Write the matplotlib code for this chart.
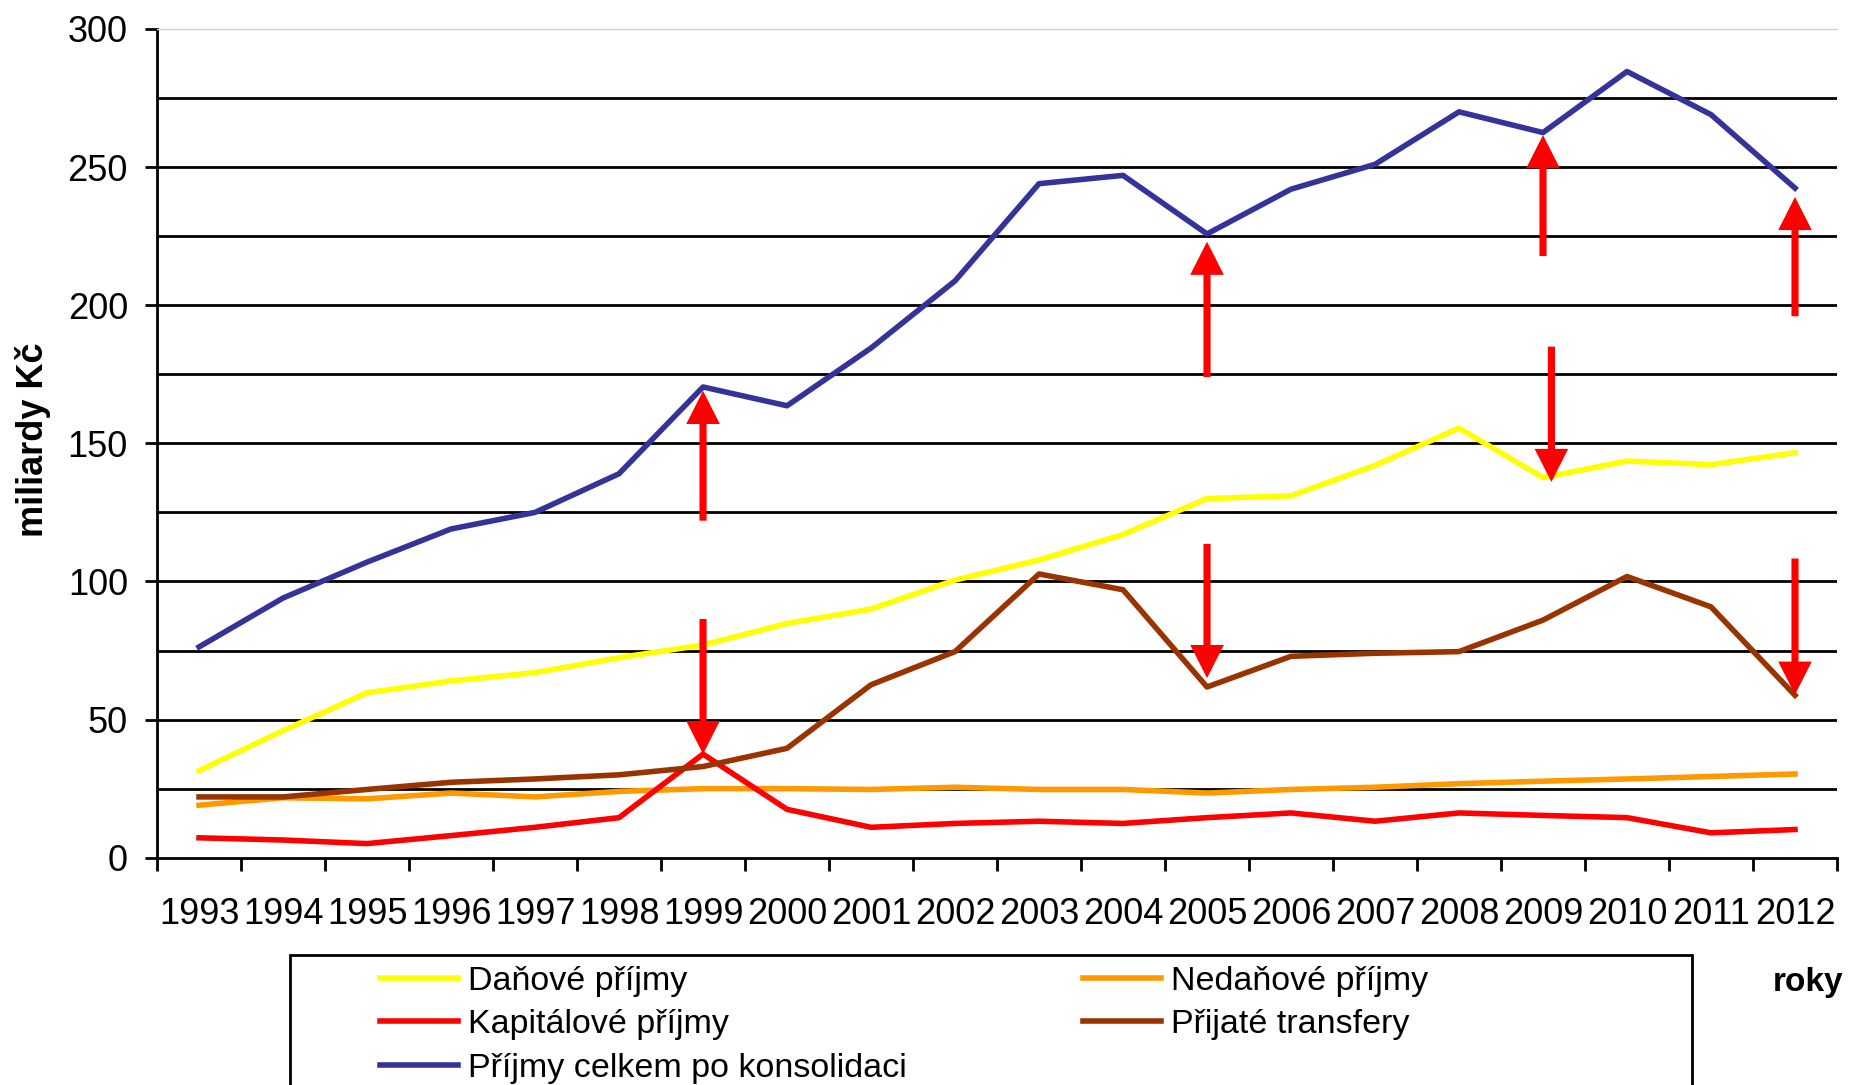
import numpy as np # numerical methods
import matplotlib.pyplot as plt #plotting
from matplotlib.patches import Rectangle

plt.rcParams['font.family'] = ['Liberation Sans', 'DejaVu Sans']

# roky a hodnoty (miliardy Kc)
years = np.arange(1993, 2013)

danove = [31.5, 46, 59.7, 64, 67, 72.4, 77, 84.8, 90, 100.5,
          107.8, 117, 130, 131, 142, 155.5, 137.6, 143.6, 142.3, 146.6]
nedanove = [19, 21.7, 21.3, 23.4, 22, 24, 25, 25, 24.7, 25.5,
            24.7, 24.7, 23.4, 24.7, 25.5, 26.8, 27.7, 28.5, 29.4, 30.3]
kapitalove = [7.2, 6.4, 5.1, 8, 11, 14.5, 37.5, 17.5, 11, 12.4,
              13.2, 12.4, 14.5, 16.2, 13.2, 16.2, 15.3, 14.5, 9, 10.2]
transfery = [22, 22, 24.7, 27.3, 28.5, 30, 33, 39.6, 62.6, 74.6,
             102.7, 97, 61.8, 72.9, 74, 74.6, 86, 101.8, 90.8, 58.8]
celkem = [76.3, 94, 107, 119, 125, 139, 170.4, 163.6, 184.5, 208.8,
          244, 247, 225.8, 242, 251, 270, 262.5, 284.6, 269, 242.4]

# sipky: (rok, odkud, kam)
arrows = [(1999, 122, 169), (1999, 86.4, 37.5),
          (2005, 174, 223), (2005, 113.6, 65),
          (2009, 217.8, 261.6), (2009.1, 185, 136),
          (2012, 196, 239.2), (2012, 108.3, 59)]

fig = plt.figure(figsize=(18.52, 10.85), dpi=100)
ax = fig.add_axes([0.0848, 0.2095, 0.9071, 0.7638])

# horizontal grid every 25
for g in range(25, 300, 25):
    ax.axhline(g, color='black', lw=2.0, zorder=1)

lw = 4
l_dan, = ax.plot(years, danove, color='#FFFF00', lw=lw, zorder=3)
l_ned, = ax.plot(years, nedanove, color='#FF9900', lw=lw, zorder=3)
l_kap, = ax.plot(years, kapitalove, color='#FF0000', lw=lw, zorder=3)
l_tra, = ax.plot(years, transfery, color='#993300', lw=lw, zorder=3)
l_cel, = ax.plot(years, celkem, color='#333399', lw=lw, zorder=3)

for x, y0, y1 in arrows:
    ax.arrow(x, y0, 0, y1 - y0, width=0.085, head_width=0.4, head_length=12,
             length_includes_head=True, color='#FF0000', lw=0, zorder=5)

ax.set_xlim(1992.5, 2012.5)
ax.set_ylim(0, 300)

# year labels at the centres, tick marks between categories
ax.set_xticks(years)
ax.set_xticklabels([str(y) for y in years], fontsize=26)
ax.tick_params(axis='x', which='major', length=0, pad=28)
ax.set_xticks(np.arange(1992.5, 2013, 1), minor=True)
ax.tick_params(axis='x', which='minor', length=9, width=2, color='black')

ax.set_yticks(np.arange(0, 301, 50))
ax.tick_params(axis='y', labelsize=26, length=9, width=2, pad=12)

ax.spines['left'].set_linewidth(2)
ax.spines['bottom'].set_linewidth(2)
ax.spines['top'].set_color('#d0d0d0')
ax.spines['top'].set_linewidth(1)
ax.spines['right'].set_visible(False)

fig.text(33 / 1852, 1 - 440 / 1085, 'miliardy Kč', rotation=90, fontsize=26,
         fontweight='bold', ha='center', va='center')
fig.text(1808 / 1852, 1 - 982 / 1085, 'roky', fontsize=24,
         fontweight='bold', ha='center', va='center')

# legend box runs off the bottom of the picture
fig.patches.append(Rectangle((290 / 1852, -0.1), (1692 - 290) / 1852,
                             (1085 - 955) / 1085 + 0.1, transform=fig.transFigure,
                             fill=False, edgecolor='black', lw=2))

leg_kw = dict(loc='upper left', frameon=False, fontsize=24.5, borderpad=0,
              borderaxespad=0, handlelength=2.3, handletextpad=0.3,
              labelspacing=0.36)
fig.legend([l_dan, l_kap, l_cel],
           ['Daňové příjmy', 'Kapitálové příjmy', 'Příjmy celkem po konsolidaci'],
           bbox_to_anchor=(380 / 1852, 1 - 966 / 1085), **leg_kw)
fig.legend([l_ned, l_tra], ['Nedaňové příjmy', 'Přijaté transfery'],
           bbox_to_anchor=(1083 / 1852, 1 - 966 / 1085), **leg_kw)

plt.savefig('out.png', dpi=100)
